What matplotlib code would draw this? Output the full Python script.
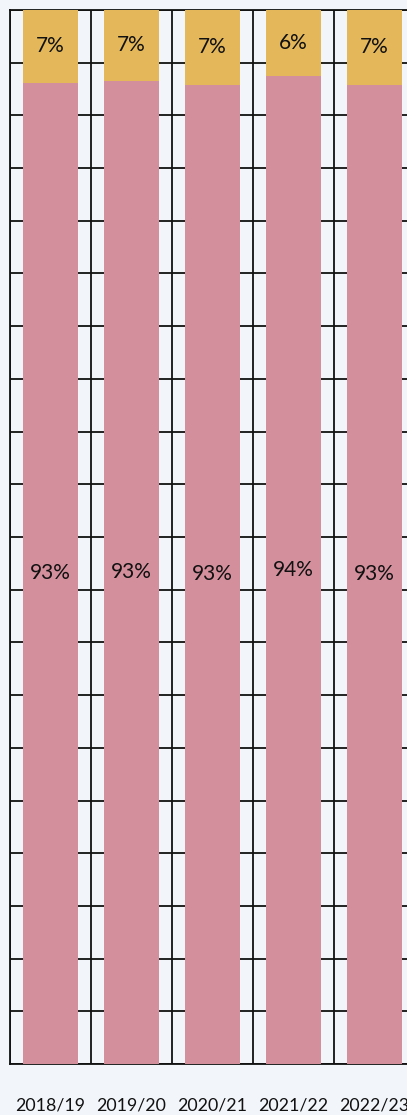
import numpy as np
import matplotlib
matplotlib.use('Agg')
import matplotlib.pyplot as plt

years = ['2018/19', '2019/20', '2020/21', '2021/22', '2022/23']
pink_vals = [93.1, 93.3, 92.9, 93.7, 92.9]
yellow_vals = [6.9, 6.7, 7.1, 6.3, 7.1]
pink_labels = ['93%', '93%', '93%', '94%', '93%']
yellow_labels = ['7%', '7%', '7%', '6%', '7%']

bg = '#f2f5f9'
pink = '#d48f9c'
yellow = '#e3b75a'

plt.rcParams['font.family'] = ['Lato', 'DejaVu Sans']

fig = plt.figure(figsize=(4.07, 11.15), dpi=100, facecolor=bg)
ax = fig.add_axes([10/407, 51/1115, 405/407, 1054/1115])
ax.set_facecolor(bg)

x = np.arange(len(years))
ax.bar(x, pink_vals, width=0.68, color=pink, zorder=3)
ax.bar(x, yellow_vals, width=0.68, bottom=pink_vals, color=yellow, zorder=3)

for i in range(len(years)):
    ax.text(x[i], pink_vals[i]/2, pink_labels[i], ha='center', va='center',
            fontsize=15, color='#111111', zorder=4)
    ax.text(x[i], pink_vals[i] + yellow_vals[i]/2, yellow_labels[i], ha='center',
            va='center', fontsize=15, color='#111111', zorder=4)

ax.set_xlim(-0.5, len(years) - 0.5)
ax.set_ylim(0, 100)
ax.set_xticks(x)
ax.set_xticklabels(years, fontsize=12.8, color='#111111')
ax.set_xticks(np.arange(-0.5, len(years), 1), minor=True)
ax.set_yticks(np.arange(0, 101, 5))
ax.set_yticklabels([])
ax.tick_params(axis='both', which='both', length=0, pad=24)
ax.grid(True, axis='y', which='major', color='#111111', linewidth=1.3, zorder=1)
ax.grid(True, axis='x', which='minor', color='#111111', linewidth=1.3, zorder=1)
ax.set_axisbelow(True)
for s in ax.spines.values():
    s.set_color('#111111')
    s.set_linewidth(1.3)
    s.set_zorder(1)

fig.savefig('out.png', dpi=100, facecolor=bg)
